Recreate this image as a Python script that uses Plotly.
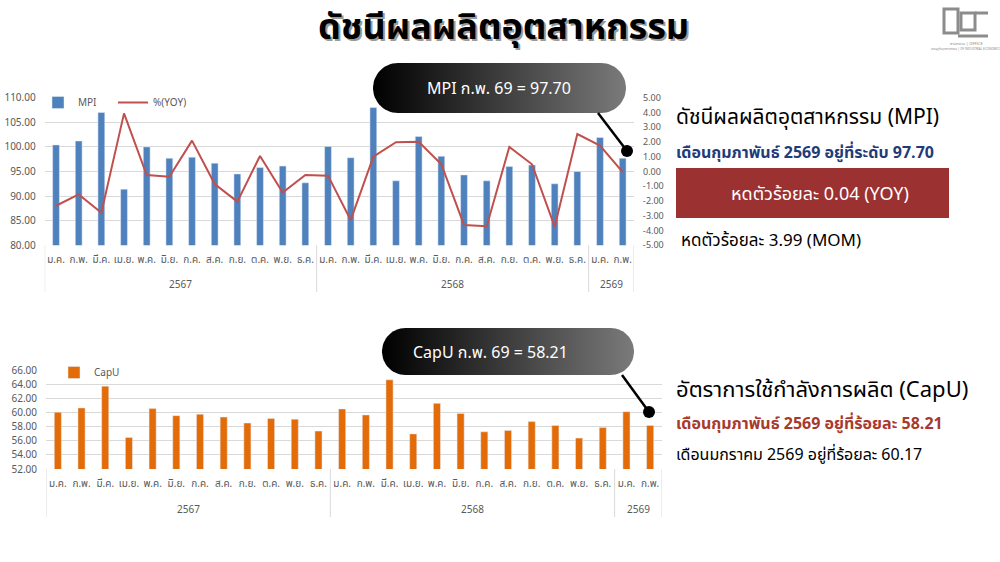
import numpy as np
import plotly.graph_objects as go

# ---------------- data ----------------
months = ["ม.ค.", "ก.พ.", "มี.ค.", "เม.ย.", "พ.ค.", "มิ.ย.", "ก.ค.", "ส.ค.", "ก.ย.", "ต.ค.", "พ.ย.", "ธ.ค."]
month_labels = months + months + months[:2]
year_labels = ["2567"] * 12 + ["2568"] * 12 + ["2569"] * 2

mpi = [100.4, 101.2, 107.0, 91.4, 100.0, 97.7, 97.9, 96.7, 94.5, 95.8, 96.1, 92.7,
       100.1, 97.8, 108.0, 93.1, 102.1, 98.1, 94.3, 93.1, 96.0, 96.3, 92.5, 95.0,
       101.9, 97.70]
yoy = [-2.32, -1.55, -2.79, 3.94, -0.24, -0.35, 2.09, -0.85, -2.04, 1.05, -1.43, -0.24,
       -0.28, -3.29, 1.00, 1.98, 2.02, 0.49, -3.62, -3.71, 1.66, 0.49, -3.74, 2.54,
       1.75, -0.04]
capu = [60.1, 60.7, 63.8, 56.5, 60.6, 59.6, 59.8, 59.4, 58.55, 59.2, 59.1, 57.4,
        60.55, 59.7, 64.7, 57.0, 61.35, 59.9, 57.3, 57.5, 58.75, 58.2, 56.4, 57.9,
        60.17, 58.21]

W, H = 1000, 562
FONT = "Tahoma, 'Noto Sans Thai', 'Noto Sans', Arial, sans-serif"
TICK = "#595959"
GRID = "#D9D9D9"

idx = list(range(len(month_labels)))

# year groups (start index, end index) derived from year labels
groups = []
for i, yl in enumerate(year_labels):
    if not groups or groups[-1][0] != yl:
        groups.append([yl, i, i])
    else:
        groups[-1][2] = i

fig = go.Figure()

# MPI bars + YOY line
fig.add_trace(go.Bar(x=idx, y=mpi, name="MPI", marker_color="#4F81BD",
                     xaxis="x", yaxis="y"))
fig.add_trace(go.Scatter(x=idx, y=yoy, name="%(YOY)", mode="lines",
                         line=dict(color="#C0504D", width=2), xaxis="x", yaxis="y2"))
# CapU bars
fig.add_trace(go.Bar(x=idx, y=capu, name="CapU", marker_color="#E36C09",
                     xaxis="x4", yaxis="y4", legend="legend2"))


def px(x):
    return x / W


def py(y):
    return 1 - y / H


# ---------------- decorative callouts on an overlay pixel axis ----------------
def pill(x0, x1, y0, y1):
    r = (y1 - y0) / 2
    t1 = np.linspace(-np.pi / 2, np.pi / 2, 30)
    t2 = np.linspace(np.pi / 2, 3 * np.pi / 2, 30)
    xs = list(x1 - r + r * np.cos(t1)) + list(x0 + r + r * np.cos(t2))
    ys = list((y0 + r) + r * np.sin(t1)) + list((y0 + r) + r * np.sin(t2))
    xs.append(xs[0]); ys.append(ys[0])
    return xs, ys


for (x0, x1, y0, y1) in [(373, 626, 63, 113), (382, 634, 328, 375)]:
    xs, ys = pill(x0, x1, y0, y1)
    fig.add_trace(go.Scatter(x=xs, y=ys, mode="lines", fill="toself",
                             line=dict(width=0, color="rgba(0,0,0,0)"),
                             fillgradient=dict(type="horizontal",
                                               colorscale=[[0, "#000000"], [1, "#7a7a7a"]]),
                             xaxis="x3", yaxis="y3", showlegend=False, hoverinfo="skip"))

ann = []
ann.append(dict(text="MPI ก.พ. 69 = 97.70", x=499, y=89, xref="x3", yref="y3",
                showarrow=False, font=dict(size=16, color="white", family=FONT)))
ann.append(dict(text="CapU ก.พ. 69 = 58.21", x=490, y=353, xref="x3", yref="y3",
                showarrow=False, font=dict(size=16, color="white", family=FONT)))

shapes = []
for (lx0, ly0, lx1, ly1) in [(598, 113, 627, 151), (622, 375, 649, 412)]:
    shapes.append(dict(type="line", xref="x3", yref="y3", x0=lx0, y0=ly0, x1=lx1, y1=ly1,
                       line=dict(color="black", width=2.5)))
    shapes.append(dict(type="circle", xref="x3", yref="y3", x0=lx1 - 6, x1=lx1 + 6,
                       y0=ly1 - 6, y1=ly1 + 6, fillcolor="black", line=dict(width=0)))

# red box
shapes.append(dict(type="rect", xref="x3", yref="y3", x0=676, x1=949, y0=168, y1=218,
                   fillcolor="#9B3131", line=dict(width=0)))

# year group labels and dividers under each chart
for xa, axis_y, lab_y, div_bottom in [("x", 245.3, 285, 292), ("x4", 469, 510, 517)]:
    for name, i0, i1 in groups:
        ann.append(dict(text=name, x=(i0 + i1) / 2, y=lab_y, xref=xa, yref="y3",
                        showarrow=False, font=dict(size=10, color=TICK, family=FONT)))
    bounds = [groups[0][1] - 0.5] + [g[2] + 0.5 for g in groups]
    for b in bounds:
        shapes.append(dict(type="line", xref=xa, yref="y3", x0=b, x1=b, y0=axis_y, y1=div_bottom,
                           line=dict(color=GRID, width=1)))

# logo (simple grey mark)
LOGO = "#8c8c8c"
shapes += [
    dict(type="rect", xref="x3", yref="y3", x0=944, y0=9, x1=958, y1=33, line=dict(color=LOGO, width=3)),
    dict(type="rect", xref="x3", yref="y3", x0=961, y0=13, x1=975, y1=30, line=dict(color=LOGO, width=3)),
    dict(type="line", xref="x3", yref="y3", x0=975, y0=13, x1=988, y1=13, line=dict(color=LOGO, width=3)),
    dict(type="line", xref="x3", yref="y3", x0=958, y0=36, x1=988, y1=36, line=dict(color=LOGO, width=3)),
]
ann.append(dict(text="สำนักงาน | OFFICE", x=966, y=44, xref="x3", yref="y3", showarrow=False,
                font=dict(size=4, color=LOGO, family=FONT)))
ann.append(dict(text="เศรษฐกิจอุตสาหกรรม | OF INDUSTRIAL ECONOMICS", x=966, y=49, xref="x3", yref="y3",
                showarrow=False, font=dict(size=3, color=LOGO, family=FONT)))

# title with shadow
title = "ดัชนีผลผลิตอุตสาหกรรม"
ann.append(dict(text="<b>" + title + "</b>", x=505, y=30, xref="x3", yref="y3", showarrow=False,
                font=dict(size=36, color="#9a9a9a", family=FONT)))
ann.append(dict(text="<b>" + title + "</b>", x=503, y=28, xref="x3", yref="y3", showarrow=False,
                font=dict(size=36, color="black", family=FONT)))


# right side texts
def txt(s, x, y, size, color, xanchor="left"):
    ann.append(dict(text=s, x=x, y=y, xref="x3", yref="y3", showarrow=False, xanchor=xanchor,
                    font=dict(size=size, color=color, family=FONT)))


txt("ดัชนีผลผลิตอุตสาหกรรม (MPI)", 674, 117, 21, "black")
txt("<b>เดือนกุมภาพันธ์ 2569 อยู่ที่ระดับ 97.70</b>", 674, 153, 16, "#1F3B7A")
txt("หดตัวร้อยละ 0.04 (YOY)", 820, 194, 18, "white", "center")
txt("หดตัวร้อยละ 3.99 (MOM)", 679, 241, 17, "black")
txt("อัตราการใช้กำลังการผลิต (CapU)", 674, 390, 22, "black")
txt("<b>เดือนกุมภาพันธ์ 2569 อยู่ที่ร้อยละ 58.21</b>", 674, 424, 16, "#A8392C")
txt("เดือนมกราคม 2569 อยู่ที่ร้อยละ 60.17", 674, 455, 16, "black")

tickfont = dict(size=10, color=TICK, family=FONT)
xcommon = dict(range=[-0.5, len(idx) - 0.5], tickmode="array", tickvals=idx, ticktext=month_labels,
               tickfont=dict(size=10, color=TICK, family=FONT), showgrid=False, tickangle=0,
               showline=False, ticks="", zeroline=False, ticklabelstandoff=7,
               fixedrange=True, automargin=False)

fig.update_layout(
    width=W, height=H, margin=dict(l=0, r=0, t=0, b=0),
    paper_bgcolor="white", plot_bgcolor="rgba(0,0,0,0)",
    font=dict(family=FONT),
    bargap=0.7,
    xaxis=dict(domain=[px(44.7), px(634)], anchor="y", **xcommon),
    yaxis=dict(domain=[py(245.3), py(97.7)], range=[80, 110], dtick=5, tickformat=".2f",
               gridcolor=GRID, tickfont=tickfont, zeroline=False, ticklabelstandoff=8,
               fixedrange=True, automargin=False),
    yaxis2=dict(overlaying="y", side="right", range=[-5, 5], dtick=1, tickformat=".2f",
                showgrid=False, zeroline=False, tickfont=dict(size=9, color=TICK, family=FONT),
                ticklabelstandoff=8, fixedrange=True, automargin=False),
    xaxis4=dict(domain=[px(46), px(662)], anchor="y4", **xcommon),
    yaxis4=dict(domain=[py(469), py(370.7)], anchor="x4", range=[52, 66], dtick=2,
                tickformat=".2f", gridcolor=GRID, tickfont=tickfont, zeroline=False,
                ticklabelstandoff=8, fixedrange=True, automargin=False),
    xaxis3=dict(domain=[0, 1], range=[0, W], visible=False, anchor="y3", fixedrange=True,
                automargin=False),
    yaxis3=dict(domain=[0, 1], range=[H, 0], visible=False, anchor="x3", fixedrange=True,
                automargin=False),
    legend=dict(orientation="h", x=px(38), y=py(88), xanchor="left", yanchor="top",
                bgcolor="rgba(0,0,0,0)", font=dict(size=10, color=TICK, family=FONT),
                itemwidth=30, entrywidth=30, tracegroupgap=0),
    legend2=dict(orientation="h", x=px(54), y=py(358), xanchor="left", yanchor="top",
                 bgcolor="rgba(0,0,0,0)", font=dict(size=10, color=TICK, family=FONT)),
    annotations=ann, shapes=shapes, showlegend=True,
)

fig.write_html("out.html", config={"displayModeBar": False},
               post_script="document.body.style.margin='0';")
